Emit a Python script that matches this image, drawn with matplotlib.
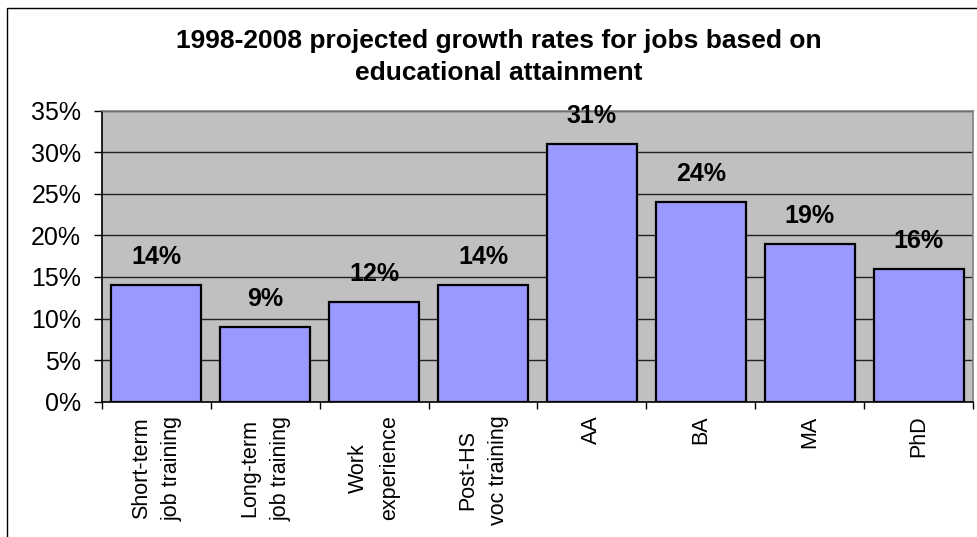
import matplotlib
matplotlib.use("Agg")
import matplotlib.pyplot as plt
from matplotlib.patches import Rectangle
from matplotlib.ticker import FuncFormatter, FixedLocator

plt.rcParams['font.family'] = ['Liberation Sans', 'DejaVu Sans']

categories = ["Short-term\njob training", "Long-term\njob training", "Work\nexperience",
              "Post-HS\nvoc training", "AA", "BA", "MA", "PhD"]
growth = [14, 9, 12, 14, 31, 24, 19, 16]
value_labels = ["14%", "9%", "12%", "14%", "31%", "24%", "19%", "16%"]
y_ticks = [0, 5, 10, 15, 20, 25, 30, 35]
title = "1998-2008 projected growth rates for jobs based on\neducational attainment"

W, H = 978, 537
fig = plt.figure(figsize=(W / 100, H / 100), dpi=100)
fig.patch.set_facecolor("white")

# chart-area border (top and left edges visible)
fig.add_artist(Rectangle((7.5 / W, -0.2), 1.5, 1.2 - 8.3 / H, transform=fig.transFigure,
                         fill=False, edgecolor="black", linewidth=1.0))

ax = fig.add_axes([102 / W, 1 - 401.7 / H, (973 - 102) / W, (401.7 - 110.5) / H])
ax.set_facecolor("#C0C0C0")
ax.set_axisbelow(True)

x = list(range(len(categories)))
ax.bar(x, growth, width=0.826, color="#9999FF", edgecolor="black", linewidth=1.6, zorder=2)

for xi, v, lab in zip(x, growth, value_labels):
    ax.annotate(lab, (xi, v), xytext=(0, 15), textcoords="offset points",
                ha="center", va="baseline", fontsize=18, fontweight="bold",
                annotation_clip=False, zorder=3)

ax.set_xlim(-0.5, len(categories) - 0.5)
ax.set_ylim(0, 35)
ax.set_yticks(y_ticks)
ax.yaxis.set_major_formatter(FuncFormatter(lambda v, p: f"{int(v)}%"))
ax.yaxis.grid(True, color="#222222", linewidth=1.0)
ax.tick_params(axis="y", direction="out", length=6, width=1, pad=9, labelsize=18)

ax.set_xticks(x)
ax.set_xticklabels(categories, rotation=90, ha="center", va="top", multialignment="center",
                   fontsize=15.5, linespacing=1.6)
ax.xaxis.set_minor_locator(FixedLocator([i - 0.5 for i in range(len(categories) + 1)]))
ax.tick_params(axis="x", which="major", length=0, pad=10)
ax.tick_params(axis="x", which="minor", direction="out", length=5, width=1)

for s in ("left", "bottom"):
    ax.spines[s].set_color("black")
    ax.spines[s].set_linewidth(1.2)
for s in ("top", "right"):
    ax.spines[s].set_color("#808080")
    ax.spines[s].set_linewidth(1.2)

fig.text(499 / W, 1 - 29 / H, title, ha="center", va="top", fontsize=19,
         fontweight="bold", linespacing=1.43)

fig.savefig("out.png", dpi=100)
